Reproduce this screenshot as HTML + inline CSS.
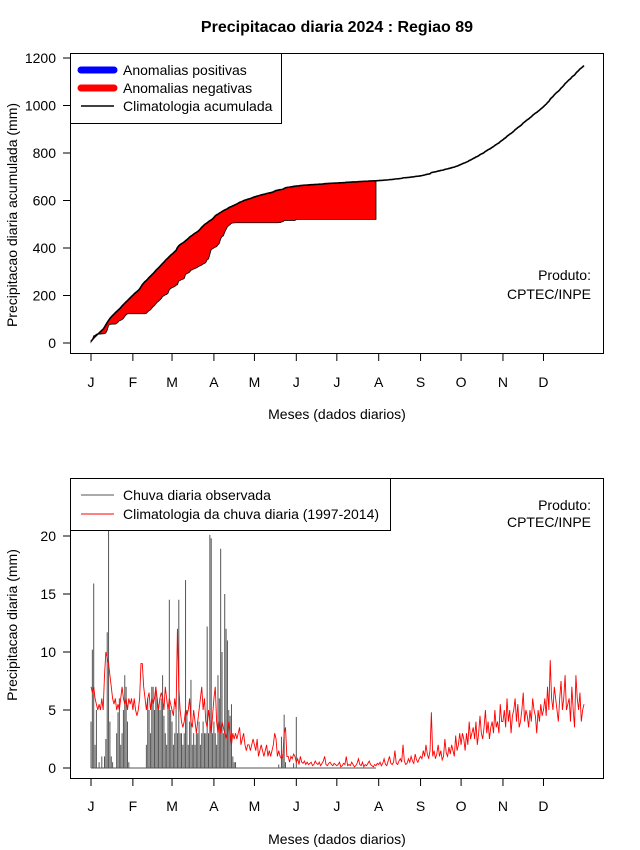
<!DOCTYPE html>
<html><head><meta charset="utf-8"><style>
body{margin:0;background:#fff;}
svg{display:block;font-family:"Liberation Sans",sans-serif;}
</style></head><body>
<svg id="c" width="640" height="850"></svg>
<script>
const months=["J","F","M","A","M","J","J","A","S","O","N","D"];
const monthStart=[1,32,61,92,122,153,183,214,245,275,306,336];
const topTicks=[0,200,400,600,800,1000,1200];
const botTicks=[0,5,10,15,20];
const climJan=[7,6.5,7,6,5.5,5,5.5,5,6,5,8,10,9.5,9,8,7,6,5.5,6,5,5.5,5,6,7,6,5.5,6,5,6,5.5,6];
const climFeb=[5,6,5,4.5,5,6,9,9,7,6,5,6,6.5,5,6,5.5,6,7,6,5,6,6.5,6,5,7,6,5,6,5.5];
const climMar=[5,4.5,6,5,12,7,5,4,3.5,4,5,4.5,5,6,4,3.5,5,4,3,4,5,6,7,5,6,4,3.5,5,4,3,4.5];
const climApr=[6,7,4,3,4,3,4,3.5,3,2.5,3,4,3,2,3,2.5,3,2.5,3,3.5,2,2.5,3,2,1.5,2,2,1.5,2,2.5];
const climMay=[2,1.5,2.5,1,1.5,2,1.5,1,1.5,2,1,1.5,1,1.5,2,3,2.5,1,1.5,1,0.8,1,3,3.5,1,1,0.5,1,0.8,1.2,1];
const climJun=[0.5,0.8,0.3,1,0.5,0.4,0.6,0.3,0.5,0.3,0.4,0.5,0.2,0.3,0.6,0.4,0.3,0.5,0.2,0.4,0.6,1,0.3,0.2,0.4,0.5,0.3,0.2,0.4,0.3];
const climJul=[0.2,0.3,0.5,0.1,0.2,0.4,0.3,1,0.2,0.3,0.2,0.5,0.3,0.1,0.2,0.4,0.8,0.3,0.2,0.5,0.1,0.3,0.2,0.4,0.6,0.3,0.2,0.1,0.3,0.2,0.4];
const climAug=[0.3,0.5,0.2,0.4,0.8,0.3,0.2,0.6,1,0.4,0.3,0.5,1.5,0.4,0.3,0.6,0.8,0.5,2,0.6,0.3,0.4,0.8,0.5,1,0.6,0.4,1.2,0.7,0.5,0.8];
const climSep=[1,0.8,1.5,1,2,1.2,0.8,1.5,4.8,1,1.5,0.8,1.2,2,1,1.5,0.7,1,2.5,1.3,1,1.8,1.2,2,1.5,1,2.8,1.5,2,3];
const climOct=[2,3,2.5,1.5,3,2,4,2.5,3,3.5,2.5,4,2,3,4.5,3,2.5,3.5,5,3,4,2.5,3.5,4,3,5,3.5,4,3,5.5,4];
const climNov=[4,5,3.5,6,4,5,3,4.5,5,6,4,5.5,3.5,4,5,6.5,4,5,4.5,3.5,5,4,6,5,4.5,3,5,4,5.5,4.5];
const climDec=[5,6,4.5,7,5,9.3,6,5,7,6,5,4,6,7.5,5,6,8,5,5.5,6,4,7,5,3.5,8,6,5,6.5,4,5,5.5];
const obsJan=[4,10.2,15.9,2,5,0,0.5,0,1,0,1,2.5,11.7,20.5,4,1,0.5,0,0,3,4.8,6,2,3,5,8,7,4,0.5,0,0];
const obsFeb=[0,0,0,0,0,0,0,0,0,0,2,6,5,3,7,7,5,7,6,5,5,6,8,4.5,3,2,5,14.5,5];
const obsMar=[4,2,3,5,3,14.5,3,3,2,3,16.2,5,2,4,7.6,2,3,2,3,3,4,2,3,4,3,3,12.2,3,20.1,19.8,3];
const obsApr=[4,3,2,8,6,18.9,10,3,15,12,11,5,4.5,5.5,1,0.5,0.5,0,0,0,0,0,0,0,0,0,0,0,0,0];
const obsMay=[0,0,0,0,0,0,0,0,0,0,0,0,0,0,0,0,0,0,0.3,0,2.7,1.2,4.6,0.5,0,0,0,0,0,0.4,0];
const obsJun=[4.4,0,0,0,0,0,0,0,0,0,0,0,0,0,0,0,0,0,0,0,0,0,0,0,0,0,0,0,0,0];
const obsJul=[0,0,0,0,0,0,0,0,0,0,0,0,0,0,0,0,0,0,0,0,0,0,0,0,0,0,0,0,0,0];

const clim=[].concat(climJan,climFeb,climMar,climApr,climMay,climJun,climJul,climAug,climSep,climOct,climNov,climDec);
const obs=[].concat(obsJan,obsFeb,obsMar,obsApr,obsMay,obsJun,obsJul);
const NS="http://www.w3.org/2000/svg";
const svg=document.getElementById('c');
function mk(tag,attrs,name,parent){const e=document.createElementNS(NS,tag);for(const k in attrs)e.setAttribute(k,attrs[k]);


(parent||svg).appendChild(e);return e;}
function txt(x,y,s,name,opt){const t=mk('text',Object.assign({x:x,y:y,'font-size':14,fill:'#000'},opt||{}),name);t.textContent=s;return t;}
const xDay=d=>91+(d-1)*(493/365);
const yTop=v=>343-v*(285/1200);
const yBot=v=>768-v*(232/20);

txt(337,32,"Precipitacao diaria 2024 : Regiao 89","chart-title",{'text-anchor':'middle','font-weight':'bold','font-size':16});

// ---- top plot
const cumC=[],cumO=[];let s=0;clim.forEach(v=>{s+=v;cumC.push(s);});s=0;obs.forEach(v=>{s+=v;cumO.push(s);});
let pts=[];for(let i=0;i<obs.length;i++)pts.push(xDay(i+1)+","+yTop(cumC[i]));
for(let i=obs.length-1;i>=0;i--)pts.push(xDay(i+1)+","+yTop(cumO[i]));
mk('polygon',{points:pts.join(' '),fill:'#ff0000',stroke:'#000','stroke-width':0.8},'negative-anomaly-area');
mk('polyline',{points:cumC.map((v,i)=>xDay(i+1)+","+yTop(v)).join(' '),fill:'none',stroke:'#000','stroke-width':1.6},'climatology-accumulated-line');
mk('rect',{x:70.5,y:53.5,width:533,height:300,fill:'none',stroke:'#000'},'top-plot-box');
topTicks.forEach(v=>{mk('line',{x1:63,x2:70,y1:yTop(v),y2:yTop(v),stroke:'#000'},'y-tick');txt(56,yTop(v)+5,String(v),'y-tick-label',{'text-anchor':'end'});});
months.forEach((m,i)=>{const x=xDay(monthStart[i]);mk('line',{x1:x,x2:x,y1:353,y2:361,stroke:'#000'},'x-tick');txt(x,387,m,'x-tick-label',{'text-anchor':'middle'});});
txt(337,419,"Meses (dados diarios)","x-axis-title",{'text-anchor':'middle'});
txt(0,0,"Precipitacao diaria acumulada (mm)","y-axis-title",{'text-anchor':'middle',transform:'translate(17,215) rotate(-90)'});
txt(591,280,"Produto:","product-label",{'text-anchor':'end'});
txt(591,299,"CPTEC/INPE","product-source",{'text-anchor':'end'});
mk('rect',{x:70.5,y:53.5,width:211,height:70,fill:'#fff',stroke:'#000'},'top-legend-box');
mk('line',{x1:81,x2:114,y1:70,y2:70,stroke:'#0000ff','stroke-width':7,'stroke-linecap':'round'},'legend-positive-swatch');
txt(123,75,"Anomalias positivas","legend-positive-label");
mk('line',{x1:81,x2:114,y1:88,y2:88,stroke:'#ff0000','stroke-width':7,'stroke-linecap':'round'},'legend-negative-swatch');
txt(123,93,"Anomalias negativas","legend-negative-label");
mk('line',{x1:81,x2:114,y1:106,y2:106,stroke:'#000','stroke-width':1.5},'legend-climatology-swatch');
txt(123,111,"Climatologia acumulada","legend-climatology-label");

// ---- bottom plot
obs.forEach((v,i)=>{if(v>0)mk('line',{x1:xDay(i+1),x2:xDay(i+1),y1:yBot(0),y2:yBot(v),stroke:'#555','stroke-width':1},'observed-rain-bar');});
mk('line',{x1:xDay(1),x2:xDay(obs.length),y1:yBot(0),y2:yBot(0),stroke:'#555','stroke-width':1},'observed-zero-baseline');
mk('polyline',{points:clim.map((v,i)=>xDay(i+1)+","+yBot(v)).join(' '),fill:'none',stroke:'#ff0000','stroke-width':0.9},'climatology-daily-line');
mk('rect',{x:70.5,y:478.5,width:533,height:300,fill:'none',stroke:'#000'},'bottom-plot-box');
botTicks.forEach(v=>{mk('line',{x1:63,x2:70,y1:yBot(v),y2:yBot(v),stroke:'#000'},'y-tick');txt(56,yBot(v)+5,String(v),'y-tick-label',{'text-anchor':'end'});});
months.forEach((m,i)=>{const x=xDay(monthStart[i]);mk('line',{x1:x,x2:x,y1:778,y2:786,stroke:'#000'},'x-tick');txt(x,811,m,'x-tick-label',{'text-anchor':'middle'});});
txt(337,844,"Meses (dados diarios)","x-axis-title",{'text-anchor':'middle'});
txt(0,0,"Precipitacao diaria (mm)","y-axis-title",{'text-anchor':'middle',transform:'translate(17,625) rotate(-90)'});
txt(591,510,"Produto:","product-label",{'text-anchor':'end'});
txt(591,527,"CPTEC/INPE","product-source",{'text-anchor':'end'});
mk('rect',{x:70.5,y:478.5,width:320,height:52,fill:'#fff',stroke:'#000'},'bottom-legend-box');
mk('line',{x1:81,x2:114,y1:495,y2:495,stroke:'#555','stroke-width':1},'legend-observed-swatch');
txt(123,500,"Chuva diaria observada","legend-observed-label");
mk('line',{x1:81,x2:114,y1:514,y2:514,stroke:'#ff0000','stroke-width':1},'legend-climatology-daily-swatch');
txt(123,519,"Climatologia da chuva diaria (1997-2014)","legend-climatology-daily-label");
</script>
</body></html>
